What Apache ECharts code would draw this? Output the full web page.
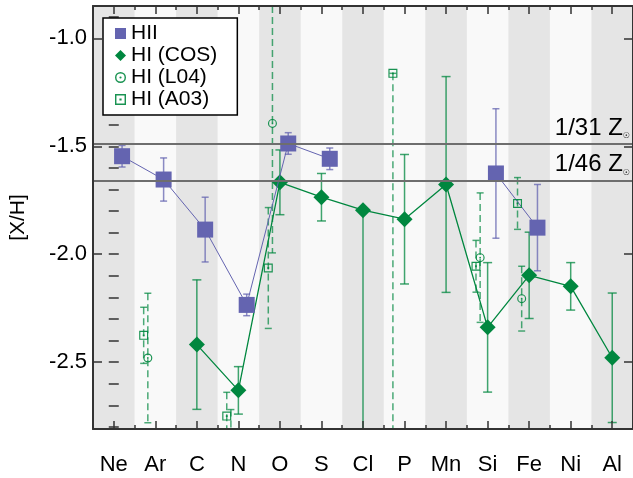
<!DOCTYPE html>
<html><head><meta charset="utf-8">
<script src="https://cdn.jsdelivr.net/npm/echarts@6/dist/echarts.min.js"></script>
<style>html,body{margin:0;padding:0;background:#fff}#c{width:633px;height:478px}</style>
</head><body><div id="c"></div>
<script>
// ---- data ----
const categories = ['Ne','Ar','C','N','O','S','Cl','P','Mn','Si','Fe','Ni','Al'];
const yTickValues = [-2.5, -2.0, -1.5, -1.0];
const yRange = [-2.81, -0.85];

const hiiValues = [-1.546, -1.654, -1.886, -2.235, -1.487, -1.558, null, null, null, -1.626, -1.877, null, null];
const hiiErrors = [0.05, 0.10, 0.15, 0.05, 0.05, 0.05, null, null, null, 0.30, 0.20, null, null];

const cosValues  = [null, null, -2.419, -2.631, -1.667, -1.736, -1.796, -1.838, -1.677, -2.339, -2.098, -2.149, -2.480];
const cosErrLow  = [null, null, 0.30, 0.11, 0.15, 0.11, 1.50, 0.30, 0.50, 0.30, 0.20, 0.11, 0.30];
const cosErrHigh = [null, null, 0.30, 0.11, 0.15, 0.11, 0.00, 0.30, 0.50, 0.30, 0.20, 0.11, 0.30];

const l04Values = [null, -2.481, null, -2.950, -1.394, null, null, null, null, -2.016, -2.206, null, null];
const l04Errors = [null, 0.30, null, 0.23, 0.60, null, null, null, null, 0.30, 0.15, null, null];

const a03Values  = [null, -2.376, null, -2.750, -2.064, null, null, -1.162, null, -2.056, -1.765, null, null];
const a03ErrLow  = [null, 0.13, null, 0.11, 0.28, null, null, 1.80, null, 0.12, 0.12, null, null];
const a03ErrHigh = [null, 0.13, null, 0.11, 0.28, null, null, 0.00, null, 0.12, 0.12, null, null];

const refLabels = ['1/31', '1/46'];
const refValues = [Math.log10(1/31), Math.log10(1/46)];

// ---- style constants ----
const FONT = 'Liberation Sans';
const BLUE = '#6464b0';
const GREEN = '#00873f';
const hiiShift = 0.2, l04Shift = -0.18, a03Shift = -0.28;

const ringPath = 'path://M50,0 A50,50 0 1,1 50,100 A50,50 0 1,1 50,0 Z M50,13 A37,37 0 1,0 50,87 A37,37 0 1,0 50,13 Z M50,40 A10,10 0 1,1 50,60 A10,10 0 1,1 50,40 Z';
const boxPath = 'path://M0,0 L100,0 L100,100 L0,100 Z M13,13 L13,87 L87,87 L87,13 Z M40,40 L60,40 L60,60 L40,60 Z';

function pts(vals, shift) {
  return vals.map((v, i) => [i + shift, v == null ? '-' : v]);
}
function scatterPts(vals, shift) {
  const out = [];
  vals.forEach((v, i) => { if (v != null) out.push([i + shift, v]); });
  return out;
}
function errPts(vals, lo, hi, shift) {
  const out = [];
  vals.forEach((v, i) => { if (v != null) out.push([i + shift, v - lo[i], v + hi[i]]); });
  return out;
}
function errRender(color, capW, width, dash) {
  return function (params, api) {
    const cs = params.coordSys;
    const x = api.value(0), lo = api.value(1), hi = api.value(2);
    const pLo = api.coord([x, lo]), pHi = api.coord([x, hi]);
    const top = cs.y, bot = cs.y + cs.height;
    const yA = Math.max(top, Math.min(bot, pHi[1]));
    const yB = Math.max(top, Math.min(bot, pLo[1]));
    const ch = [{ type: 'line', shape: { x1: pLo[0], y1: yA, x2: pLo[0], y2: yB },
      style: { stroke: color, lineWidth: width, lineDash: dash || null } }];
    [pHi[1], pLo[1]].forEach(y => {
      if (y >= top && y <= bot) ch.push({ type: 'line',
        shape: { x1: pLo[0] - capW / 2, y1: y, x2: pLo[0] + capW / 2, y2: y },
        style: { stroke: color, lineWidth: width } });
    });
    return { type: 'group', children: ch };
  };
}

const xMajor = categories.map((_, i) => i);
const xMinor = categories.map((_, i) => i - 0.5).concat([categories.length - 0.5]);
const yMinor = [];
for (let k = -28; k <= -9; k++) yMinor.push(k / 10);
const bandData = categories.map((_, i) => [i]).filter(d => d[0] % 2 === 0);

const xBase = { type: 'value', min: -0.5, max: categories.length - 0.5, z: 10,
  splitLine: { show: false }, axisLine: { show: false } };
const yBase = { type: 'value', min: yRange[0], max: yRange[1], z: 10,
  splitLine: { show: false }, axisLine: { show: false } };
const axisLineStyle = { show: true, onZero: false, lineStyle: { color: '#333', width: 2 } };

const option = {
  animation: false,
  textStyle: { fontFamily: FONT },
  grid: { left: 92, right: 0, top: 6, bottom: 49, show: true, backgroundColor: '#f9f9f9', borderWidth: 0 },
  xAxis: [
    Object.assign({}, xBase, { position: 'bottom', axisLine: axisLineStyle,
      axisTick: { inside: true, length: 8, customValues: xMajor, lineStyle: { color: '#333', width: 1.5 } },
      axisLabel: { customValues: xMajor, margin: 25, fontSize: 22, color: '#000', fontFamily: FONT,
        formatter: v => categories[Math.round(v)] } }),
    Object.assign({}, xBase, { position: 'bottom',
      axisTick: { inside: true, length: 4, customValues: xMinor, lineStyle: { color: '#333', width: 1.5 } },
      axisLabel: { show: false } }),
    Object.assign({}, xBase, { position: 'top', axisLine: axisLineStyle,
      axisTick: { inside: true, length: 8, customValues: xMajor, lineStyle: { color: '#333', width: 1.5 } },
      axisLabel: { show: false } }),
    Object.assign({}, xBase, { position: 'top',
      axisTick: { inside: true, length: 4, customValues: xMinor, lineStyle: { color: '#333', width: 1.5 } },
      axisLabel: { show: false } })
  ],
  yAxis: [
    Object.assign({}, yBase, { position: 'left', axisLine: axisLineStyle,
      name: '[X/H]', nameLocation: 'middle', nameGap: 64, nameRotate: 90,
      nameTextStyle: { fontSize: 21, color: '#000', fontFamily: FONT },
      axisTick: { inside: true, length: 9, customValues: yTickValues, lineStyle: { color: '#333', width: 1.5 } },
      axisLabel: { customValues: yTickValues, margin: 6, fontSize: 22, color: '#000', fontFamily: FONT,
        formatter: v => v.toFixed(1) } }),
    Object.assign({}, yBase, { position: 'left',
      axisTick: { inside: true, length: 5, customValues: yMinor, lineStyle: { color: '#333', width: 1.5 } },
      axisLabel: { show: false } }),
    Object.assign({}, yBase, { position: 'right', axisLine: axisLineStyle,
      axisTick: { inside: true, length: 9, customValues: yTickValues, lineStyle: { color: '#333', width: 1.5 } },
      axisLabel: { show: false } }),
    Object.assign({}, yBase, { position: 'right',
      axisTick: { inside: true, length: 5, customValues: yMinor, lineStyle: { color: '#333', width: 1.5 } },
      axisLabel: { show: false } })
  ],
  legend: {
    orient: 'vertical', left: 103, top: 18, z: 30,
    backgroundColor: '#fff', borderColor: '#000', borderWidth: 1.5, borderRadius: 0,
    padding: [5, 20, 5, 12], itemGap: 1, itemWidth: 11, itemHeight: 11,
    textStyle: { fontSize: 21, color: '#000', fontFamily: FONT, lineHeight: 20 },
    data: [
      { name: 'HII', icon: 'rect' },
      { name: 'HI (COS)', icon: 'diamond' },
      { name: 'HI (L04)', icon: ringPath },
      { name: 'HI (A03)', icon: boxPath }
    ]
  },
  series: [
    { type: 'custom', name: 'bands', z: 0, silent: true, data: bandData,
      renderItem: function (params, api) {
        const i = api.value(0);
        const p1 = api.coord([i - 0.5, yRange[1]]);
        const p2 = api.coord([i + 0.5, yRange[0]]);
        return { type: 'rect', shape: { x: p1[0], y: p1[1], width: p2[0] - p1[0], height: p2[1] - p1[1] },
          style: { fill: '#e5e5e5' } };
      } },
    { type: 'custom', name: 'hiiErr', z: 2, data: errPts(hiiValues, hiiErrors, hiiErrors, hiiShift),
      renderItem: errRender('rgba(100,100,176,0.75)', 7, 1.5) },
    { type: 'custom', name: 'cosErr', z: 2, data: errPts(cosValues, cosErrLow, cosErrHigh, 0),
      renderItem: errRender('rgba(0,135,63,0.75)', 9, 1.5) },
    { type: 'custom', name: 'l04Err', z: 2, data: errPts(l04Values, l04Errors, l04Errors, l04Shift),
      renderItem: errRender('rgba(0,135,63,0.7)', 7, 1.5, [7, 4]) },
    { type: 'custom', name: 'a03Err', z: 2, data: errPts(a03Values, a03ErrLow, a03ErrHigh, a03Shift),
      renderItem: errRender('rgba(0,135,63,0.7)', 7, 1.5, [7, 4]) },
    { type: 'line', name: 'HI (COS)', z: 3, data: pts(cosValues, 0), connectNulls: false,
      symbol: 'diamond', symbolSize: 16, showSymbol: true,
      lineStyle: { color: GREEN, width: 1.3 }, itemStyle: { color: GREEN, borderWidth: 0 },
      markLine: { silent: true, symbol: 'none',
        lineStyle: { color: '#6e6e6e', width: 2, type: 'solid' },
        data: refValues.map((v, i) => ({ yAxis: v, name: refLabels[i] })),
        label: { show: true, position: 'insideEndTop', distance: [3, 4],
          formatter: p => '{a|' + p.name + ' Z}{b|☉}',
          rich: { a: { fontSize: 24, color: '#000', fontFamily: FONT },
                  b: { fontSize: 8, color: '#000', verticalAlign: 'bottom', fontFamily: 'DejaVu Sans' } } } } },
    { type: 'line', name: 'HII', z: 4, data: pts(hiiValues, hiiShift), connectNulls: false,
      symbol: 'rect', symbolSize: 16, showSymbol: true,
      lineStyle: { color: BLUE, width: 1 }, itemStyle: { color: BLUE, borderWidth: 0 } },
    { type: 'scatter', name: 'HI (L04)', z: 4, data: scatterPts(l04Values, l04Shift),
      symbol: ringPath, symbolSize: 9, symbolKeepAspect: true, itemStyle: { color: GREEN, opacity: 0.9 } },
    { type: 'scatter', name: 'HI (A03)', z: 4, data: scatterPts(a03Values, a03Shift),
      symbol: boxPath, symbolSize: 9, symbolKeepAspect: true, itemStyle: { color: GREEN, opacity: 0.9 } }
  ]
};
const chart = echarts.init(document.getElementById('c'), null, { renderer: 'canvas' });
chart.setOption(option);
</script>
</body></html>
